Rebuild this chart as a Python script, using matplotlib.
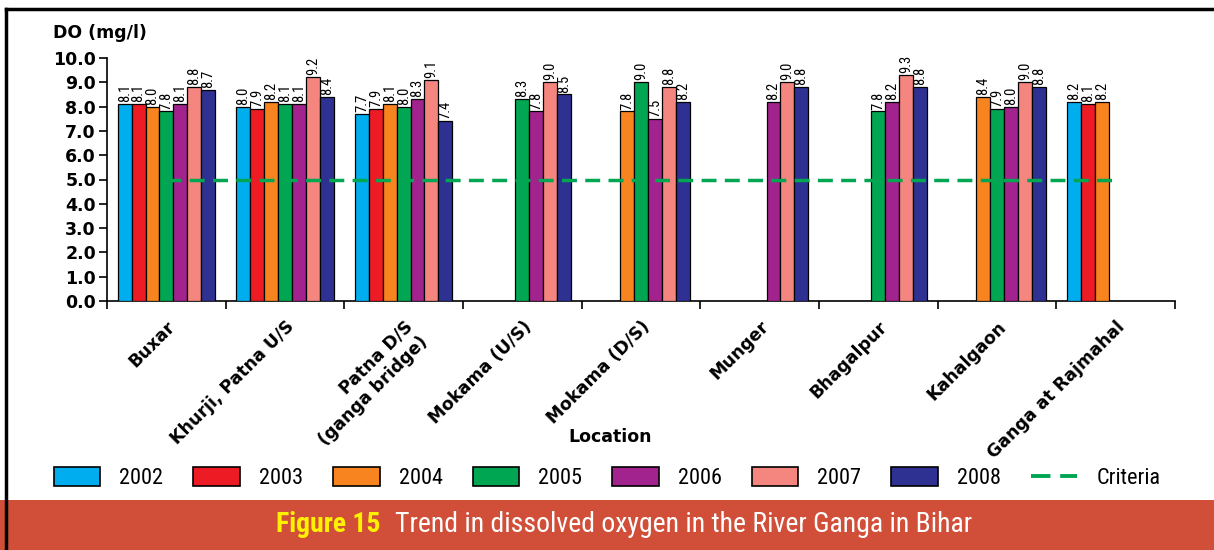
import numpy as np
import matplotlib
matplotlib.use("Agg")
import matplotlib.pyplot as plt
from matplotlib import font_manager
from matplotlib.patches import Rectangle, Patch
from matplotlib.lines import Line2D

def pick_font(names):
  for n in names:
    try:
      font_manager.findfont(n, fallback_to_default=False)
      return n
    except Exception:
      pass
  return "DejaVu Sans"

NARROW = pick_font(["Liberation Sans Narrow", "Roboto Condensed", "Liberation Sans"])
BOLD = "DejaVu Sans"

locations = ["Buxar", "Khurji, Patna U/S", "Patna D/S\n(ganga bridge)", "Mokama (U/S)",
             "Mokama (D/S)", "Munger", "Bhagalpur", "Kahalgaon", "Ganga at Rajmahal"]
years = ["2002", "2003", "2004", "2005", "2006", "2007", "2008"]
colors = ["#00AEEF", "#ED1C24", "#F7841F", "#00A651", "#A3238E", "#F4857F", "#2E3192"]
nan = np.nan
do_2002 = [8.1, 8.0, 7.7, nan, nan, nan, nan, nan, 8.2]
do_2003 = [8.1, 7.9, 7.9, nan, nan, nan, nan, nan, 8.1]
do_2004 = [8.0, 8.2, 8.1, nan, 7.8, nan, nan, 8.4, 8.2]
do_2005 = [7.8, 8.1, 8.0, 8.3, 9.0, nan, 7.8, 7.9, nan]
do_2006 = [8.1, 8.1, 8.3, 7.8, 7.5, 8.2, 8.2, 8.0, nan]
do_2007 = [8.8, 9.2, 9.1, 9.0, 8.8, 9.0, 9.3, 9.0, nan]
do_2008 = [8.7, 8.4, 7.4, 8.5, 8.2, 8.8, 8.8, 8.8, nan]
criteria = 5.0
series = [do_2002, do_2003, do_2004, do_2005, do_2006, do_2007, do_2008]

fig = plt.figure(figsize=(12.14, 5.5), dpi=100)
ax = fig.add_axes([107/1214, 1-301/550, (1175-107)/1214, (301-58)/550])

x = np.arange(len(locations))
w = 0.117
for i, (vals, c) in enumerate(zip(series, colors)):
  vals = np.array(vals)
  bars = ax.bar(x + (i-3)*w, vals, w, color=c, edgecolor="black", linewidth=0.9, zorder=3)
  for b, v in zip(bars, vals):
    if np.isnan(v):
      continue
    ax.text(b.get_x() + b.get_width()/2, v + 0.08, "%.1f" % v, rotation=90,
            ha="center", va="bottom", fontsize=10.5, family=NARROW, zorder=4)

# criteria line sits on top of the bars
ax.plot([x[0], x[-1]], [criteria, criteria], color="#00A651", lw=2.5,
        dashes=(4.3, 2.4), zorder=5)

ax.set_xlim(-0.5, len(locations)-0.5)
ax.set_ylim(0, 10)
ax.set_yticks(np.arange(0, 10.5, 1.0))
ax.set_yticklabels(["%.1f" % t for t in np.arange(0, 10.5, 1.0)],
                   fontsize=12.5, fontweight="bold", family=BOLD)
ax.set_xticks(x)
ax.set_xticklabels(locations, rotation=45, ha="right", rotation_mode="anchor",
                   fontsize=12.5, fontweight="bold", family=BOLD)
ax.set_xticks(np.arange(-0.5, len(locations), 1.0), minor=True)
ax.tick_params(axis="x", which="major", length=0, pad=12)
ax.tick_params(axis="x", which="minor", length=6, width=1.2, direction="out")
ax.tick_params(axis="y", length=6, width=1.2, direction="out", pad=2)
for s in ["top", "right"]:
  ax.spines[s].set_visible(False)
for s in ["left", "bottom"]:
  ax.spines[s].set_linewidth(1.2)

fig.text(53/1214, 1-33/550, "DO (mg/l)", fontsize=12.5, fontweight="bold",
         family=BOLD, va="center", ha="left")
fig.text(610/1214, 1-437/550, "Location", fontsize=12.5, fontweight="bold",
         family=BOLD, va="center", ha="center")

handles = [Patch(facecolor=c, edgecolor="black", linewidth=1.2) for c in colors]
handles.append(Line2D([], [], color="#00A651", lw=2.8, dashes=(5, 2.5)))
fig.legend(handles, years + ["Criteria"], loc="center", bbox_to_anchor=(607/1214, 1-478/550),
           ncol=8, frameon=False, prop={"family": NARROW, "size": 16},
           handlelength=2.1, handleheight=0.9, handletextpad=0.85, columnspacing=1.35)

# banner and frame
fig.patches.append(Rectangle((0, 0), 1, 50/550, transform=fig.transFigure,
                             facecolor="#D14F38", edgecolor="none", zorder=0))
fig.lines.append(Line2D([6/1214, 6/1214], [0, 1-9/550], transform=fig.transFigure,
                        color="black", lw=2.5))
fig.lines.append(Line2D([6/1214, 1], [1-9/550, 1-9/550], transform=fig.transFigure,
                        color="black", lw=2.5))
t1 = fig.text(276/1214, 1-525/550, "Figure 15", color="#FFF200", fontsize=20,
              fontweight="bold", family=NARROW, va="center", ha="left")
fig.canvas.draw()
bb = t1.get_window_extent(fig.canvas.get_renderer())
fig.text(bb.x1/fig.bbox.width + 14/1214, 1-525/550,
         "Trend in dissolved oxygen in the River Ganga in Bihar", color="white",
         fontsize=20, family=NARROW, va="center", ha="left")

fig.savefig("out.png", dpi=100)
